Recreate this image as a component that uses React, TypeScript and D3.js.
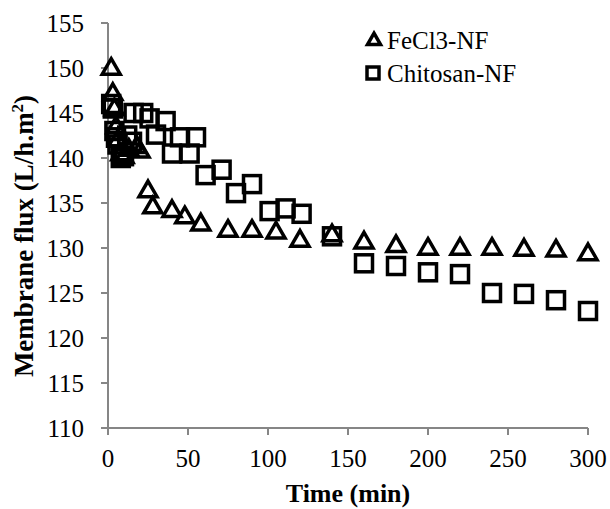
import * as React from "react";
import * as d3 from "d3";

// FeCl3-NF (triangles)
const ferricTime = [2, 3, 4, 5, 6, 8, 10, 13, 18, 20, 25, 28, 40, 48, 58, 75, 90, 105, 120, 140, 160, 180, 200, 220, 240, 260, 280, 300];
const ferricFlux = [150.0, 147.2, 145.5, 143.5, 142.0, 140.5, 140.2, 141.0, 141.3, 140.8, 136.4, 134.6, 134.2, 133.5, 132.7, 132.0, 132.0, 131.8, 130.9, 131.5, 130.7, 130.3, 130.0, 130.0, 130.0, 129.9, 129.8, 129.4];

// Chitosan-NF (squares)
const chitoTime = [2, 3, 4, 5, 6, 8, 10, 12, 15, 16, 22, 26, 30, 36, 40, 45, 51, 55, 61, 71, 80, 90, 101, 111, 121, 140, 160, 180, 200, 220, 240, 260, 280, 300];
const chitoFlux = [146.0, 145.5, 143.0, 142.3, 141.5, 140.0, 140.2, 142.5, 141.8, 145.0, 145.0, 144.4, 142.6, 144.1, 140.5, 142.3, 140.5, 142.3, 138.1, 138.7, 136.1, 137.1, 134.1, 134.4, 133.8, 131.3, 128.3, 128.0, 127.3, 127.1, 125.0, 124.9, 124.2, 123.0];

const xTicks = [0, 50, 100, 150, 200, 250, 300];
const yTicks = [110, 115, 120, 125, 130, 135, 140, 145, 150, 155];

const seriesNames = ["FeCl3-NF", "Chitosan-NF"];

const font = "'Liberation Serif', 'Times New Roman', serif";
const axisColor = "#868686";

export default function App() {
  const width = 610;
  const height = 509;
  const left = 108;
  const right = 588;
  const top = 23;
  const bottom = 428;

  const x = d3.scaleLinear().domain([0, 300]).range([left, right]);
  const y = d3.scaleLinear().domain([110, 155]).range([bottom, top]);

  const tri = (cx: number, cy: number, s: number) => {
    const h = (s * Math.sqrt(3)) / 2;
    return `M${cx},${cy - h * 0.6}L${cx + s / 2},${cy + h * 0.4}L${cx - s / 2},${cy + h * 0.4}Z`;
  };

  return (
    <svg
      width={width}
      height={height}
      style={{ position: "absolute", left: 0, top: 0, background: "#fff", fontFamily: font }}
    >
      {/* axes */}
      <line x1={left} x2={left} y1={top} y2={bottom} stroke={axisColor} strokeWidth={2} />
      <line x1={left} x2={right} y1={bottom} y2={bottom} stroke={axisColor} strokeWidth={2} />
      {yTicks.map((t) => (
        <g key={"y" + t}>
          <line x1={left - 7} x2={left} y1={y(t)} y2={y(t)} stroke={axisColor} strokeWidth={2} />
          <text x={84} y={y(t)} dy="0.35em" textAnchor="end" fontSize={25}>
            {t}
          </text>
        </g>
      ))}
      {xTicks.map((t) => (
        <g key={"x" + t}>
          <line x1={x(t)} x2={x(t)} y1={bottom} y2={bottom + 7} stroke={axisColor} strokeWidth={2} />
          <text x={x(t)} y={467} textAnchor="middle" fontSize={25}>
            {t}
          </text>
        </g>
      ))}

      {/* axis titles */}
      <text x={348} y={502} textAnchor="middle" fontSize={26} fontWeight="bold">
        Time (min)
      </text>
      <text
        transform={`translate(33,236) rotate(-90)`}
        textAnchor="middle"
        fontSize={27}
        fontWeight="bold"
      >
        Membrane flux (L/h.m<tspan dy={-10} fontSize={17}>2</tspan>
        <tspan dy={10}>)</tspan>
      </text>

      {/* data */}
      {chitoTime.map((t, i) => (
        <rect
          key={"c" + i}
          x={x(t) - 8.5}
          y={y(chitoFlux[i]) - 8.5}
          width={17}
          height={17}
          fill="none"
          stroke="#000"
          strokeWidth={3.5}
        />
      ))}
      {ferricTime.map((t, i) => (
        <path
          key={"f" + i}
          d={tri(x(t), y(ferricFlux[i]), 18)}
          fill="none"
          stroke="#000"
          strokeWidth={3.5}
        />
      ))}

      {/* legend */}
      <path d={tri(374, 40, 13)} fill="none" stroke="#000" strokeWidth={3.5} />
      <text x={387} y={40} dy="0.35em" fontSize={25}>
        {seriesNames[0]}
      </text>
      <rect x={367} y={67} width={12} height={12} fill="none" stroke="#000" strokeWidth={3.5} />
      <text x={387} y={73} dy="0.35em" fontSize={25}>
        {seriesNames[1]}
      </text>
    </svg>
  );
}
